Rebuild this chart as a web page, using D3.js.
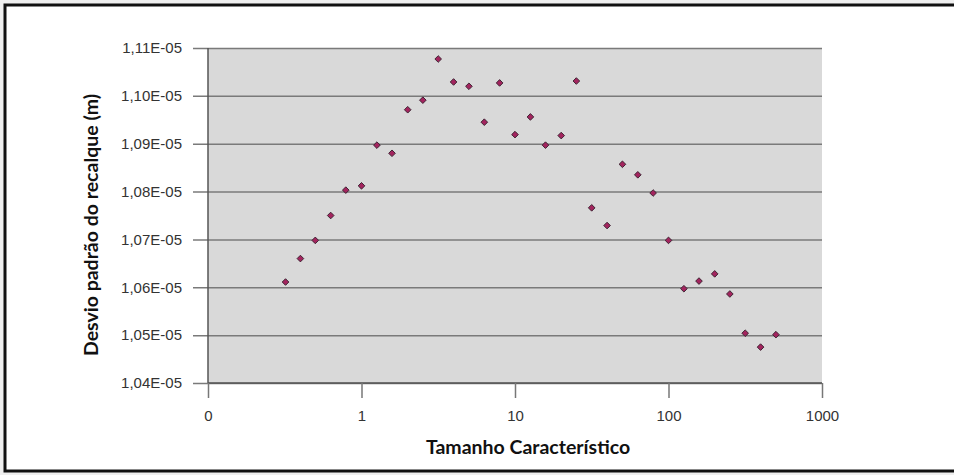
<!DOCTYPE html>
<html>
<head>
<meta charset="utf-8">
<script src="https://cdn.jsdelivr.net/npm/d3@7"></script>
<style>
  html, body { margin: 0; padding: 0; background: #efefef; }
  svg { display: block; }
</style>
</head>
<body>
<svg id="chart" width="954" height="475"></svg>
<script>
// characteristic size (x) and settlement standard deviation (y, in metres)
const sizes = [0.32, 0.40, 0.50, 0.63, 0.79, 1.0, 1.26, 1.58, 2.0, 2.51, 3.16,
  3.98, 5.01, 6.31, 7.94, 10, 12.6, 15.8, 20, 25.1, 31.6, 39.8, 50.1, 63.1,
  79.4, 100, 126, 158, 200, 251, 316, 398, 501];
const stdDev = [1.0611e-5, 1.0660e-5, 1.0698e-5, 1.0750e-5, 1.0803e-5, 1.0812e-5,
  1.0897e-5, 1.0880e-5, 1.0971e-5, 1.0991e-5, 1.1077e-5, 1.1029e-5, 1.1020e-5,
  1.0945e-5, 1.1027e-5, 1.0919e-5, 1.0956e-5, 1.0897e-5, 1.0917e-5, 1.1031e-5,
  1.0766e-5, 1.0729e-5, 1.0857e-5, 1.0835e-5, 1.0797e-5, 1.0698e-5, 1.0597e-5,
  1.0613e-5, 1.0628e-5, 1.0586e-5, 1.0504e-5, 1.0475e-5, 1.0501e-5];

const xTicks = [0.1, 1, 10, 100, 1000];
const xTickLabels = ["0", "1", "10", "100", "1000"];
const yTicks = [1.04e-5, 1.05e-5, 1.06e-5, 1.07e-5, 1.08e-5, 1.09e-5, 1.10e-5, 1.11e-5];
const yTickLabels = ["1,04E-05", "1,05E-05", "1,06E-05", "1,07E-05", "1,08E-05", "1,09E-05", "1,10E-05", "1,11E-05"];

const svg = d3.select("#chart");
const plot = {left: 208, right: 822, top: 48, bottom: 383};

// white frame with thick black border (right side runs off the picture)
svg.append("rect")
  .attr("x", 5).attr("y", 5)
  .attr("width", 1000).attr("height", 466)
  .attr("fill", "#fff")
  .attr("stroke", "#111")
  .attr("stroke-width", 3);

const x = d3.scaleLog().domain([0.1, 1000]).range([plot.left, plot.right]);
const y = d3.scaleLinear().domain([1.04e-5, 1.11e-5]).range([plot.bottom, plot.top]);

svg.append("rect")
  .attr("x", plot.left).attr("y", plot.top)
  .attr("width", plot.right - plot.left)
  .attr("height", plot.bottom - plot.top)
  .attr("fill", "#d9d9d9");

// y axis: gridlines that stick out to the left as ticks
const yAxis = d3.axisLeft(y)
  .tickValues(yTicks)
  .tickSize(-(plot.right - plot.left + 15))
  .tickPadding(11)
  .tickFormat((d, i) => yTickLabels[i]);

const gy = svg.append("g")
  .attr("transform", `translate(${plot.left - 15},0)`)
  .call(yAxis);
gy.select(".domain").remove();
gy.selectAll(".tick line")
  .attr("stroke", "#7a7a7a")
  .attr("stroke-width", 1.5);
gy.selectAll(".tick text")
  .attr("x", -11)
  .attr("fill", "#333")
  .style("font-family", "'Liberation Sans', Arial, sans-serif")
  .style("font-size", "15px");

// x axis
const xAxis = d3.axisBottom(x)
  .tickValues(xTicks)
  .tickSize(15)
  .tickPadding(12)
  .tickFormat((d, i) => xTickLabels[i]);

const gx = svg.append("g")
  .attr("transform", `translate(0,${plot.bottom})`)
  .call(xAxis);
gx.select(".domain")
  .attr("d", `M${plot.left},0H${plot.right}`)
  .attr("stroke", "#555")
  .attr("stroke-width", 1.5);
gx.selectAll(".tick line")
  .attr("stroke", "#777")
  .attr("stroke-width", 1.5);
gx.selectAll(".tick text")
  .attr("fill", "#333")
  .style("font-family", "'Liberation Sans', Arial, sans-serif")
  .style("font-size", "15px");

// left plot edge
svg.append("line")
  .attr("x1", plot.left).attr("x2", plot.left)
  .attr("y1", plot.top).attr("y2", plot.bottom)
  .attr("stroke", "#555")
  .attr("stroke-width", 1.5);

// points (small diamonds)
const marker = d3.symbol().type(d3.symbolSquare).size(22);
svg.append("g")
  .selectAll("path")
  .data(sizes.map((s, i) => [s, stdDev[i]]))
  .join("path")
  .attr("transform", d => `translate(${x(d[0])},${y(d[1])}) rotate(45)`)
  .attr("d", marker)
  .attr("fill", "#a3245e")
  .attr("stroke", "#3a2230")
  .attr("stroke-width", 0.9);

// titles
svg.append("text")
  .attr("x", 528).attr("y", 454)
  .attr("text-anchor", "middle")
  .style("font-family", "Lato, 'Open Sans', sans-serif")
  .style("font-weight", "bold")
  .style("font-size", "19.5px")
  .attr("fill", "#111")
  .text("Tamanho Característico");

svg.append("text")
  .attr("transform", "translate(98,225) rotate(-90)")
  .attr("text-anchor", "middle")
  .style("font-family", "Lato, 'Open Sans', sans-serif")
  .style("font-weight", "bold")
  .style("font-size", "19.5px")
  .attr("fill", "#111")
  .text("Desvio padrão do recalque (m)");
</script>
</body>
</html>
